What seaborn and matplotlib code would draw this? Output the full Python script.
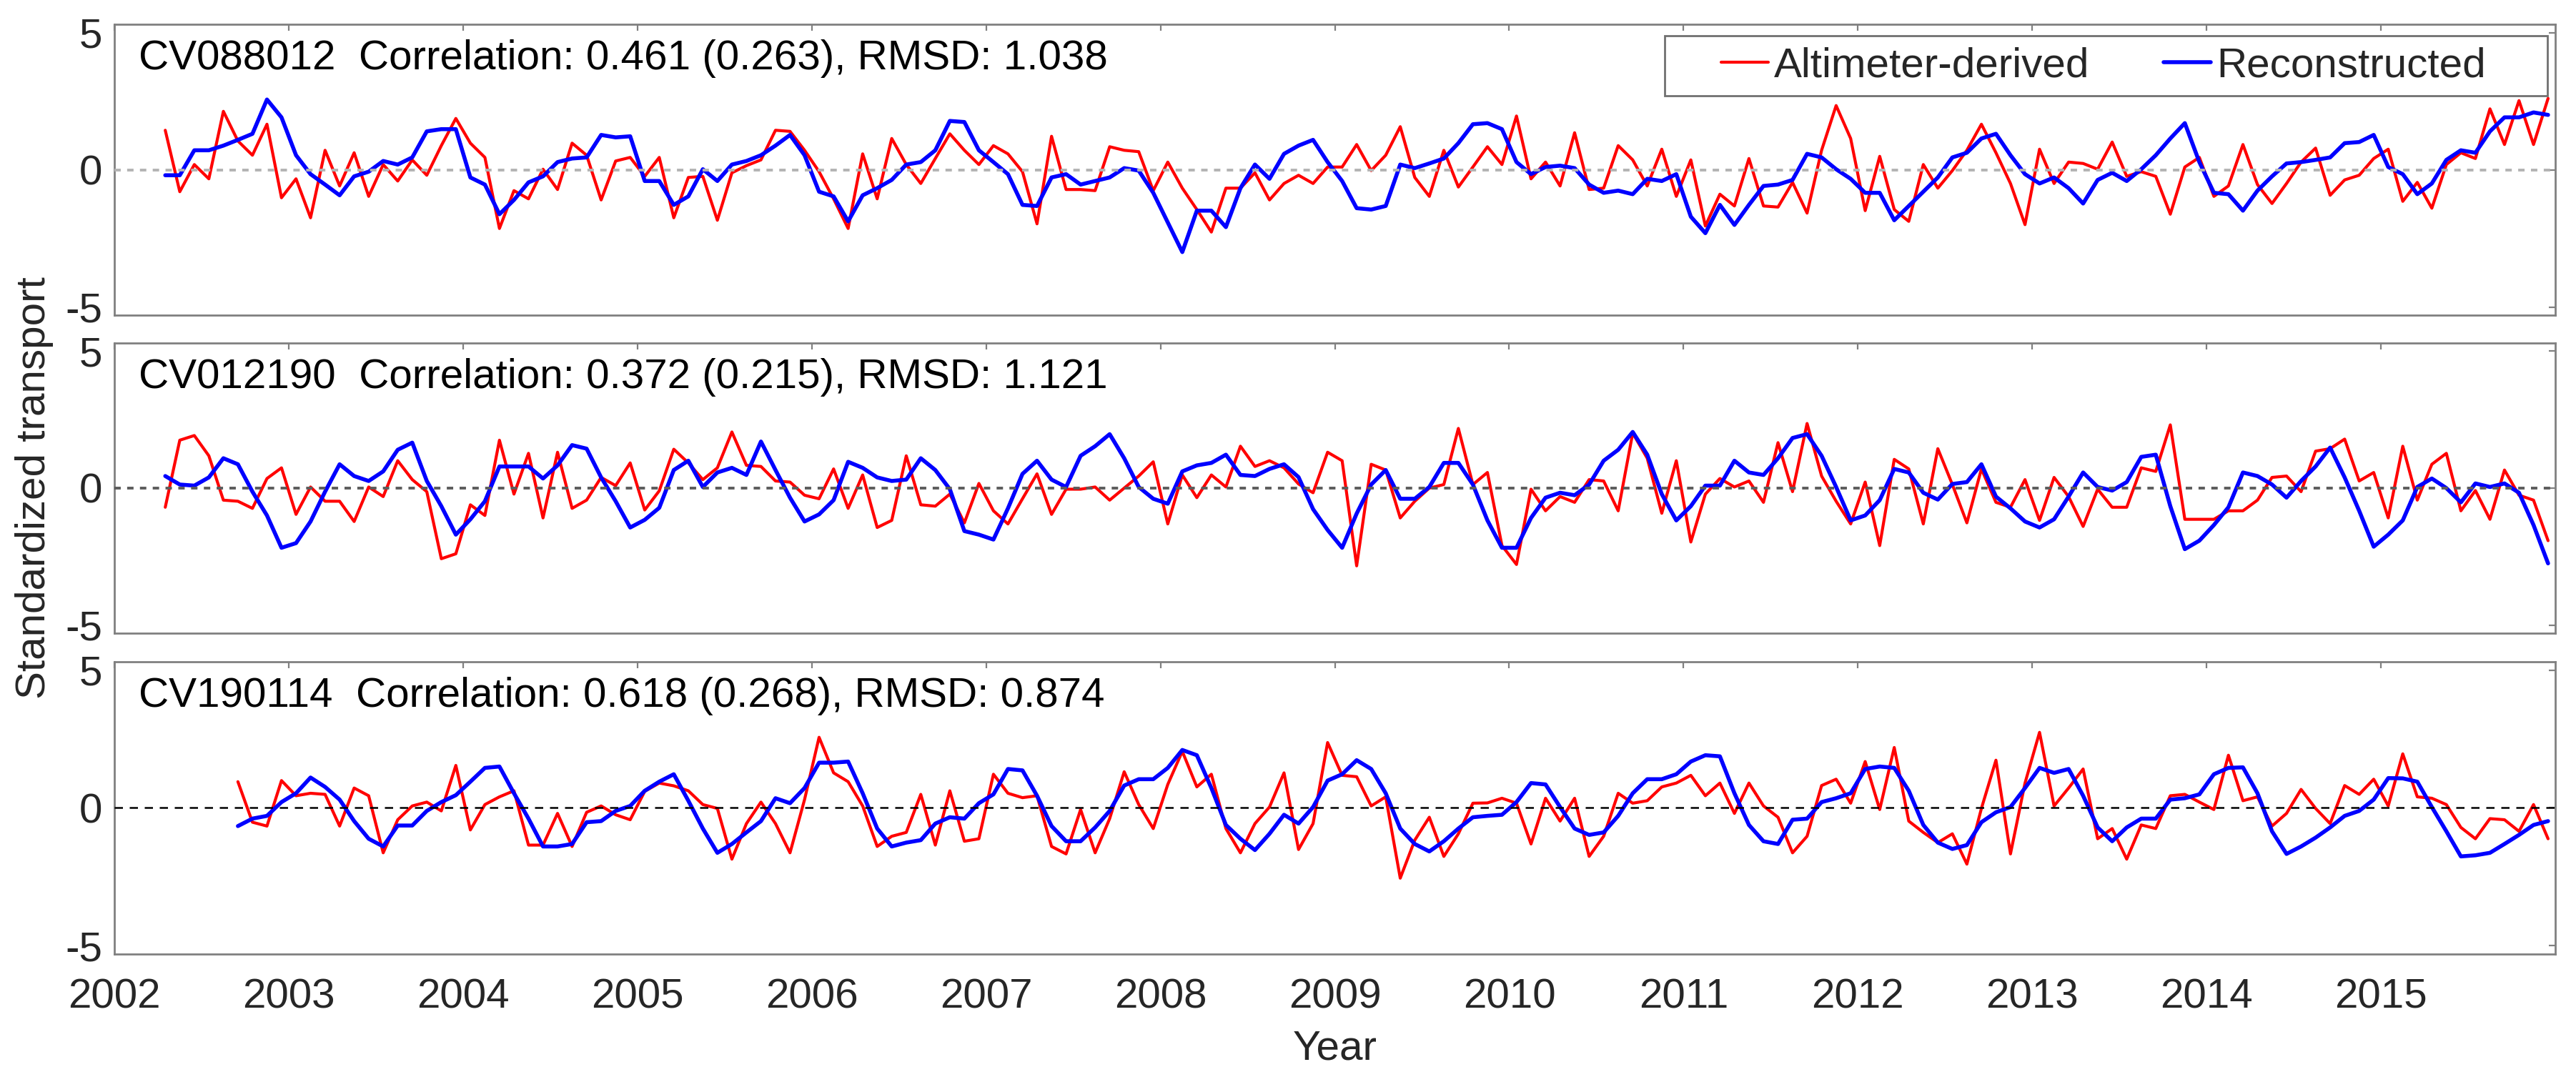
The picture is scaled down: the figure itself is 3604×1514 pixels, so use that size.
import numpy as np
import pandas as pd
import matplotlib
matplotlib.use("Agg")
import matplotlib.pyplot as plt
from matplotlib.patches import Rectangle
import seaborn as sns

# monthly series (first value = first month shown)
cv088012_alt = [
    1.44, -0.80, 0.19, -0.33, 2.13, 1.05, 0.53, 1.66, -1.02,
    -0.33, -1.75, 0.71, -0.59, 0.62, -0.97, 0.19, -0.41, 0.36, -0.20, 0.88, 1.87,
    0.97, 0.45, -2.14, -0.76, -1.06, 0.02, -0.72, 0.97, 0.53, -1.10, 0.32, 0.45,
    -0.24, 0.45, -1.75, -0.28, -0.24, -1.84, -0.11, 0.15, 0.36, 1.44, 1.40, 0.71,
    -0.07, -1.06, -2.14, 0.58, -1.06, 1.14, 0.19, -0.50, 0.41, 1.31, 0.71, 0.19,
    0.88, 0.58, -0.07, -1.97, 1.22, -0.72, -0.72, -0.76, 0.84, 0.71, 0.66, -0.76,
    0.28, -0.67, -1.45, -2.27, -0.67, -0.67, -0.11, -1.10, -0.50, -0.20, -0.50, 0.10,
    0.10, 0.92, -0.03, 0.53, 1.57, -0.28, -0.97, 0.71, -0.63, 0.10, 0.84, 0.19,
    1.96, -0.33, 0.28, -0.59, 1.35, -0.72, -0.67, 0.88, 0.36, -0.59, 0.75, -0.97,
    0.36, -2.05, -0.89, -1.32, 0.41, -1.32, -1.36, -0.46, -1.58, 0.71, 2.34, 1.14,
    -1.49, 0.49, -1.45, -1.88, 0.19, -0.67, -0.03, 0.71, 1.66, 0.62, -0.50, -2.00,
    0.75, -0.50, 0.28, 0.23, 0.02, 1.01, -0.24, -0.07, -0.24, -1.62, 0.10, 0.45,
    -0.97, -0.59, 0.92, -0.54, -1.23, -0.50, 0.28, 0.79, -0.93, -0.37, -0.20, 0.41,
    0.75, -1.15, -0.46, -1.40, 0.19, 0.62, 0.41, 2.22, 0.92, 2.52, 0.92, 2.60,
]
cv088012_rec = [
    -0.20, -0.20, 0.71, 0.71, 0.88, 1.09, 1.31, 2.56, 1.91,
    0.53, -0.16, -0.54, -0.93, -0.24, -0.07, 0.32, 0.19, 0.45, 1.40, 1.48, 1.48,
    -0.28, -0.54, -1.62, -1.10, -0.46, -0.24, 0.28, 0.41, 0.45, 1.27, 1.18, 1.22,
    -0.41, -0.41, -1.28, -0.97, 0.02, -0.41, 0.19, 0.32, 0.53, 0.88, 1.27, 0.53,
    -0.80, -0.97, -1.88, -0.93, -0.67, -0.37, 0.19, 0.28, 0.71, 1.78, 1.74, 0.71,
    0.28, -0.16, -1.28, -1.32, -0.28, -0.16, -0.54, -0.41, -0.28, 0.06, -0.03, -0.84,
    -1.92, -3.00, -1.49, -1.49, -2.09, -0.67, 0.19, -0.33, 0.58, 0.88, 1.09, 0.28,
    -0.41, -1.40, -1.45, -1.32, 0.19, 0.06, 0.23, 0.41, 0.97, 1.66, 1.70, 1.48,
    0.28, -0.16, 0.10, 0.15, 0.06, -0.54, -0.84, -0.76, -0.89, -0.33, -0.41, -0.16,
    -1.71, -2.31, -1.28, -2.01, -1.28, -0.59, -0.54, -0.37, 0.58, 0.45, 0.02, -0.33,
    -0.84, -0.84, -1.84, -1.32, -0.80, -0.28, 0.45, 0.62, 1.14, 1.31, 0.53, -0.16,
    -0.50, -0.28, -0.67, -1.23, -0.37, -0.11, -0.41, 0.02, 0.53, 1.14, 1.70, 0.28,
    -0.84, -0.89, -1.49, -0.76, -0.24, 0.23, 0.28, 0.36, 0.45, 0.97, 1.01, 1.27,
    0.10, -0.16, -0.89, -0.50, 0.36, 0.71, 0.62, 1.40, 1.91, 1.91, 2.09, 2.00,
]
cv012190_alt = [
    -0.70, 1.75, 1.92, 1.18, -0.44, -0.48, -0.74, 0.35, 0.74,
    -0.96, 0.04, -0.48, -0.48, -1.22, 0.04, -0.31, 1.00, 0.31, -0.13, -2.58, -2.40,
    -0.61, -1.00, 1.75, -0.22, 1.27, -1.09, 1.31, -0.74, -0.44, 0.39, 0.09, 0.92,
    -0.80, -0.10, 1.42, 0.92, 0.31, 0.74, 2.05, 0.83, 0.79, 0.26, 0.22, -0.26,
    -0.39, 0.70, -0.74, 0.48, -1.44, -1.18, 1.18, -0.61, -0.66, -0.22, -1.27, 0.17,
    -0.83, -1.31, -0.39, 0.52, -0.96, -0.04, -0.04, 0.04, -0.44, 0.00, 0.44, 0.96,
    -1.31, 0.48, -0.35, 0.48, 0.04, 1.53, 0.79, 1.00, 0.74, 0.15, -0.17, 1.31,
    1.00, -2.84, 0.87, 0.66, -1.09, -0.48, 0.00, 0.13, 2.18, 0.13, 0.57, -2.10,
    -2.79, -0.04, -0.83, -0.31, -0.52, 0.31, 0.26, -0.83, 2.01, 1.09, -0.92, 1.00,
    -1.97, -0.22, 0.35, 0.04, 0.26, -0.52, 1.66, -0.13, 2.36, 0.44, -0.48, -1.31,
    0.22, -2.10, 1.05, 0.70, -1.31, 1.44, 0.13, -1.27, 0.70, -0.52, -0.70, 0.31,
    -1.18, 0.39, -0.31, -1.40, -0.04, -0.70, -0.70, 0.74, 0.61, 2.31, -1.14, -1.14,
    -1.14, -0.83, -0.83, -0.44, 0.39, 0.44, -0.13, 1.35, 1.44, 1.79, 0.26, 0.57,
    -1.09, 1.53, -0.44, 0.87, 1.27, -0.83, -0.09, -1.14, 0.66, -0.26, -0.44, -1.92,
]
cv012190_rec = [
    0.44, 0.13, 0.09, 0.39, 1.09, 0.87, -0.13, -1.00, -2.18,
    -2.01, -1.22, -0.13, 0.87, 0.44, 0.26, 0.61, 1.40, 1.66, 0.26, -0.66, -1.70,
    -1.14, -0.48, 0.79, 0.79, 0.79, 0.35, 0.83, 1.57, 1.44, 0.39, -0.48, -1.44,
    -1.16, -0.72, 0.66, 1.00, 0.04, 0.57, 0.74, 0.48, 1.70, 0.66, -0.35, -1.22,
    -0.96, -0.44, 0.96, 0.74, 0.39, 0.26, 0.31, 1.09, 0.66, -0.04, -1.57, -1.70,
    -1.88, -0.74, 0.52, 1.00, 0.31, 0.04, 1.18, 1.53, 1.97, 1.09, 0.04, -0.39,
    -0.57, 0.61, 0.83, 0.92, 1.22, 0.48, 0.44, 0.70, 0.87, 0.40, -0.77, -1.53,
    -2.18, -0.93, 0.13, 0.66, -0.39, -0.39, 0.04, 0.92, 0.92, 0.13, -1.18, -2.18,
    -2.18, -1.09, -0.35, -0.17, -0.26, 0.13, 1.00, 1.40, 2.05, 1.22, -0.22, -1.18,
    -0.66, 0.09, 0.09, 1.00, 0.57, 0.48, 1.09, 1.83, 1.97, 1.18, 0.04, -1.18,
    -1.00, -0.44, 0.70, 0.57, -0.17, -0.42, 0.15, 0.22, 0.87, -0.31, -0.74, -1.22,
    -1.44, -1.14, -0.31, 0.57, 0.04, -0.09, 0.22, 1.14, 1.22, -0.66, -2.23, -1.92,
    -1.35, -0.70, 0.57, 0.44, 0.13, -0.35, 0.26, 0.79, 1.48, 0.39, -0.83, -2.14,
    -1.70, -1.18, 0.04, 0.35, 0.00, -0.52, 0.17, 0.04, 0.17, -0.17, -1.35, -2.75,
]
cv190114_alt = [
    0.95, -0.52, -0.66, 0.99,
    0.44, 0.53, 0.49, -0.66, 0.72, 0.44, -1.63, -0.43, 0.07, 0.21, -0.11, 1.54,
    -0.80, 0.12, 0.40, 0.62, -1.35, -1.35, -0.20, -1.40, -0.16, 0.07, -0.25, -0.43,
    0.60, 0.90, 0.80, 0.62, 0.12, -0.02, -1.86, -0.57, 0.21, -0.57, -1.63, 0.30,
    2.56, 1.27, 0.95, 0.07, -1.40, -1.03, -0.89, 0.49, -1.35, 0.62, -1.21, -1.12,
    1.22, 0.53, 0.37, 0.44, -1.40, -1.67, -0.06, -1.63, -0.39, 1.31, 0.12, -0.75,
    0.85, 2.05, 0.76, 1.22, -0.75, -1.63, -0.57, 0.03, 1.27, -1.51, -0.57, 2.37,
    1.18, 1.13, 0.07, 0.40, -2.55, -1.17, -0.34, -1.76, -0.94, 0.17, 0.18, 0.35,
    0.17, -1.31, 0.35, -0.48, 0.35, -1.76, -1.03, 0.53, 0.17, 0.26, 0.76, 0.90,
    1.18, 0.44, 0.90, -0.20, 0.90, 0.07, -0.34, -1.63, -1.03, 0.81, 1.04, 0.17,
    1.68, -0.06, 2.19, -0.48, -0.89, -1.26, -0.94, -2.04, -0.02, 1.73, -1.67, 0.90,
    2.74, 0.07, 0.72, 1.41, -1.12, -0.75, -1.86, -0.62, -0.75, 0.44, 0.49, 0.21,
    -0.06, 1.91, 0.26, 0.40, -0.66, -0.20, 0.67, -0.02, -0.57, 0.81, 0.49, 1.04,
    0.07, 1.96, 0.40, 0.35, 0.12, -0.71, -1.12, -0.39, -0.43, -0.85, 0.12, -1.12,
]
cv190114_rec = [
    -0.66, -0.39, -0.29, 0.21,
    0.53, 1.10, 0.76, 0.30, -0.48, -1.12, -1.40, -0.64, -0.64, -0.11, 0.21, 0.46,
    0.95, 1.45, 1.50, 0.53, -0.39, -1.40, -1.40, -1.31, -0.52, -0.48, -0.11, 0.07,
    0.62, 0.95, 1.22, 0.26, -0.75, -1.63, -1.31, -0.89, -0.48, 0.35, 0.17, 0.72,
    1.64, 1.64, 1.68, 0.53, -0.75, -1.40, -1.26, -1.17, -0.57, -0.34, -0.39, 0.17,
    0.49, 1.41, 1.36, 0.44, -0.66, -1.21, -1.21, -0.71, -0.11, 0.81, 1.04, 1.04,
    1.45, 2.10, 1.91, 0.72, -0.62, -1.12, -1.53, -0.94, -0.25, -0.57, 0.03, 0.99,
    1.22, 1.73, 1.41, 0.53, -0.75, -1.31, -1.58, -1.21, -0.75, -0.34, -0.29, -0.25,
    0.21, 0.90, 0.85, 0.03, -0.75, -0.98, -0.89, -0.29, 0.53, 1.04, 1.04, 1.22,
    1.68, 1.91, 1.87, 0.53, -0.62, -1.21, -1.31, -0.43, -0.39, 0.21, 0.35, 0.53,
    1.41, 1.50, 1.45, 0.62, -0.62, -1.26, -1.49, -1.35, -0.52, -0.16, 0.03, 0.72,
    1.45, 1.27, 1.41, 0.44, -0.71, -1.21, -0.71, -0.39, -0.39, 0.30, 0.35, 0.49,
    1.22, 1.45, 1.47, 0.53, -0.85, -1.67, -1.40, -1.08, -0.71, -0.29, -0.11, 0.30,
    1.08, 1.07, 0.95, 0.03, -0.85, -1.76, -1.72, -1.63, -1.31, -0.98, -0.62, -0.48,
]

stations = ["CV088012", "CV012190", "CV190114"]
corr = ["0.461 (0.263)", "0.372 (0.215)", "0.618 (0.268)"]
rmsd = ["1.038", "1.121", "0.874"]
start_month = [4, 4, 9]  # month of 2002 where each record begins
alt_series = [cv088012_alt, cv012190_alt, cv190114_alt]
rec_series = [cv088012_rec, cv012190_rec, cv190114_rec]
year_ticks = list(range(2002, 2016))


def month_axis(first_month, n):
    # decimal year at the middle of each month
    return 2002 + (first_month - 1 + np.arange(n) + 0.5) / 12


sns.set_style("white")
plt.rcParams["font.family"] = ["Liberation Sans", "DejaVu Sans"]
plt.rcParams["axes.unicode_minus"] = False

fig = plt.figure(figsize=(18.025, 7.57), dpi=200)
boxes = [
    [0.0444, 0.7087, 0.9473, 0.2688],
    [0.0444, 0.4148, 0.9473, 0.2682],
    [0.0444, 0.1183, 0.9473, 0.2701],
]
zero_styles = [
    dict(color="#b3b3b3", lw=1.4, dashes=(2.3, 2.3)),
    dict(color="#5c5c5c", lw=1.4, dashes=(2.3, 2.3)),
    dict(color="black", lw=0.9, dashes=(4.6, 3.8)),
]

for i in range(3):
    ax = fig.add_axes(boxes[i])
    alt = np.array(alt_series[i])
    rec = np.array(rec_series[i])
    t = month_axis(start_month[i], len(alt))
    df = pd.DataFrame({"year": t, "alt": alt, "rec": rec})

    sns.lineplot(data=df, x="year", y="alt", color="#ff0000", linewidth=1.5,
                 label="Altimeter-derived", ax=ax, zorder=2)
    sns.lineplot(data=df, x="year", y="rec", color="#0000ff", linewidth=2.0,
                 label="Reconstructed", ax=ax, zorder=2.5)
    ax.axhline(0, zorder=3, **zero_styles[i])

    ax.set_xlim(2002, 2016)
    ax.set_ylim(-5.3, 5.3)
    ax.set_xticks(year_ticks)
    ax.set_yticks([-5, 0, 5])
    ax.set_xlabel("")
    ax.set_ylabel("")
    ax.tick_params(direction="in", top=True, right=True, length=3.2, width=0.8,
                   color="#808080", labelsize=21, labelcolor="#262626")
    ax.tick_params(axis="x", pad=12)
    ax.tick_params(axis="y", pad=6)
    if i < 2:
        ax.tick_params(labelbottom=False)
    for sp in ax.spines.values():
        sp.set_color("#808080")
        sp.set_linewidth(1.0)

    ax.text(0.010, 0.948,
            f"{stations[i]}  Correlation: {corr[i]}, RMSD: {rmsd[i]}",
            transform=ax.transAxes, ha="left", va="top", fontsize=21, color="black")

    handles, labels = ax.get_legend_handles_labels()
    if ax.get_legend() is not None:
        ax.get_legend().remove()
    if i == 0:
        ax.add_patch(Rectangle((0.6351, 0.7543), 0.3617, 0.2067, transform=ax.transAxes,
                               facecolor="white", edgecolor="#707070", lw=1.0, zorder=4))
        leg = ax.legend(handles, labels, loc="center left", bbox_to_anchor=(0.6583, 0.8575),
                        ncol=2, frameon=False, fontsize=21, handlelength=1.12,
                        handletextpad=0.15, columnspacing=1.78, borderpad=0,
                        borderaxespad=0)
        leg.set_zorder(5)

fig.text(0.0133, 0.5489, "Standardized transport", rotation=90, ha="center",
         va="center", fontsize=21, color="#262626")
fig.text(0.5180, 0.0304, "Year", ha="center", va="center", fontsize=21, color="#262626")

plt.savefig("out.png", dpi=200)
